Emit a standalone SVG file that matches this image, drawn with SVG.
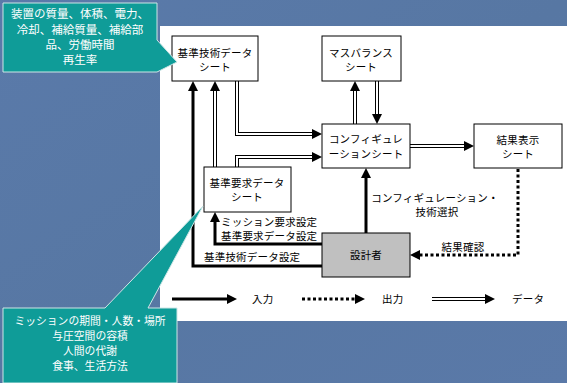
<svg xmlns="http://www.w3.org/2000/svg" width="567" height="383" viewBox="0 0 567 383">
<defs>
<style>
.t{font-family:"Noto Sans CJK JP","Noto Sans",sans-serif;font-size:10.5px;fill:#000;letter-spacing:0.2px}
.c{text-anchor:middle}
.w{font-family:"Noto Sans CJK JP","Noto Sans",sans-serif;font-size:11.5px;fill:#fff;text-anchor:middle}
.wb{font-family:"Noto Sans CJK JP","Noto Sans",sans-serif;font-size:10.8px;fill:#fff;text-anchor:middle}
.box{fill:#fff;stroke:#000;stroke-width:1}
.gray{fill:#c0c0c0;stroke:#000;stroke-width:1}
.dout{fill:none;stroke:#000;stroke-width:4}
.din{fill:none;stroke:#fff;stroke-width:2}
.inp{fill:none;stroke:#000;stroke-width:3}
.out{fill:none;stroke:#000;stroke-width:3;stroke-dasharray:3 2.5}
.call{fill:#0f9c98;stroke:#cde6e6;stroke-width:1}
</style>
<marker id="ah" viewBox="0 0 10 10" refX="0" refY="5" markerWidth="10" markerHeight="10" markerUnits="userSpaceOnUse" orient="auto">
<path d="M0,0 L10,5 L0,10 z" fill="#000"/>
</marker>
<linearGradient id="bg" x1="0" y1="0" x2="1" y2="1">
<stop offset="0" stop-color="#5a7aaa"/>
<stop offset="0.5" stop-color="#5777a3"/>
<stop offset="1" stop-color="#5a79a8"/>
</linearGradient>
</defs>
<rect x="0" y="0" width="567" height="383" fill="url(#bg)"/>
<rect x="160" y="26" width="407" height="295" fill="#fff"/>

<g id="connectors">
<path class="dout" d="M237,81 V134 H312" marker-end="url(#ah)"/>
<path class="din" d="M237,80 V134 H312"/>
<path class="dout" d="M237,167 V157 H312" marker-end="url(#ah)"/>
<path class="din" d="M237,168 V157 H312"/>
<path class="dout" d="M215,167 V91" marker-end="url(#ah)"/>
<path class="din" d="M215,168 V91"/>
<path class="dout" d="M355,124 V91" marker-end="url(#ah)"/>
<path class="din" d="M355,125 V91"/>
<path class="dout" d="M377,81 V114" marker-end="url(#ah)"/>
<path class="din" d="M377,80 V114"/>
<path class="dout" d="M410,146 H464" marker-end="url(#ah)"/>
<path class="din" d="M409,146 H464"/>
<path class="inp" d="M322,266 H193 V91" marker-end="url(#ah)"/>
<path class="inp" d="M322,244 H215 V222" marker-end="url(#ah)"/>
<path class="inp" d="M366,233 V178" marker-end="url(#ah)"/>
<path class="out" d="M518,169 V255 H420" marker-end="url(#ah)"/>
<text class="t" x="221" y="226">ミッション要求設定</text>
<text class="t" x="221" y="240">基準要求データ設定</text>
<text class="t" x="204" y="261">基準技術データ設定</text>
<text class="t c" x="435" y="202">コンフィギュレーション・</text>
<text class="t c" x="437" y="216">技術選択</text>
<text class="t c" x="463" y="251">結果確認</text>
</g>

<g id="legend">
<path class="inp" d="M172,299 H227" marker-end="url(#ah)"/>
<text class="t" x="252" y="303">入力</text>
<path class="out" d="M302,299 H355" marker-end="url(#ah)"/>
<text class="t" x="382" y="303">出力</text>
<path class="dout" d="M432,299 H485" marker-end="url(#ah)"/>
<path class="din" d="M432,299 H485"/>
<text class="t" x="512" y="303">データ</text>
</g>

<g id="n-kijungijutsu">
<rect class="box" x="172" y="36" width="86" height="45"/>
<text class="t c" x="215" y="57">基準技術データ</text>
<text class="t c" x="215" y="71">シート</text>
</g>
<g id="n-massbalance">
<rect class="box" x="322" y="36" width="79" height="45"/>
<text class="t c" x="361" y="57">マスバランス</text>
<text class="t c" x="361" y="71">シート</text>
</g>
<g id="n-config">
<rect class="box" x="322" y="124" width="88" height="44"/>
<text class="t c" x="366" y="143">コンフィギュレ</text>
<text class="t c" x="366" y="158">ーションシート</text>
</g>
<g id="n-result">
<rect class="box" x="474" y="124" width="88" height="44"/>
<text class="t c" x="518" y="144">結果表示</text>
<text class="t c" x="518" y="158">シート</text>
</g>
<g id="n-kijunyokyu">
<rect class="box" x="204" y="167" width="87" height="45"/>
<text class="t c" x="247" y="187">基準要求データ</text>
<text class="t c" x="247" y="201">シート</text>
</g>
<g id="n-designer">
<rect class="gray" x="322" y="233" width="88" height="44"/>
<text class="t c" x="366" y="259">設計者</text>
</g>

<g id="callout-top">
<path class="call" d="M3,3 H157 V40 L177,62 L157,72 H3 Z"/>
<text class="w" x="80" y="18">装置の質量、体積、電力、</text>
<text class="w" x="80" y="34">冷却、補給質量、補給部</text>
<text class="w" x="80" y="49">品、労働時間</text>
<text class="w" x="80" y="64">再生率</text>
</g>
<g id="callout-bottom">
<path class="call" d="M3,308 H105 L203,206 L148,308 H177 V383 H3 Z"/>
<text class="wb" x="90" y="325">ミッションの期間・人数・場所</text>
<text class="wb" x="90" y="340">与圧空間の容積</text>
<text class="wb" x="90" y="355">人間の代謝</text>
<text class="wb" x="90" y="370">食事、生活方法</text>
</g>
</svg>
